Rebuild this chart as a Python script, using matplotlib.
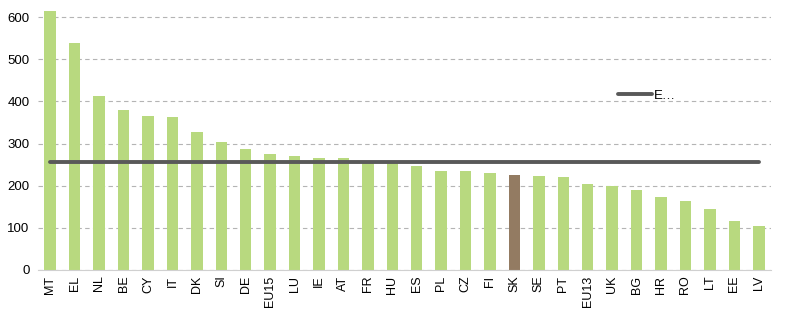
import numpy as np
import matplotlib.pyplot as plt
from matplotlib.lines import Line2D

plt.rcParams['font.family'] = ['Liberation Sans', 'DejaVu Sans']

countries = ["MT", "EL", "NL", "BE", "CY", "IT", "DK", "SI", "DE", "EU15", "LU", "IE", "AT",
             "FR", "HU", "ES", "PL", "CZ", "FI", "SK", "SE", "PT", "EU13", "UK", "BG", "HR",
             "RO", "LT", "EE", "LV"]
values = [614, 539, 413, 379, 365, 363, 327, 304, 287, 275, 270, 266, 266,
          258, 255, 247, 235, 235, 230, 225, 223, 220, 204, 199, 190, 173,
          164, 145, 116, 104]
eu_avg = 256
highlight = "SK"

fig = plt.figure(figsize=(7.93, 3.11), dpi=100)
ax = fig.add_axes([38 / 793, 41 / 311, 733 / 793, 261.4 / 311])

x = np.arange(len(countries))
colors = ['#937b62' if c == highlight else '#b8d97f' for c in countries]
ax.bar(x, values, width=0.47, color=colors, zorder=2)
ax.plot(x, [eu_avg] * len(x), color='#595959', lw=2.8, solid_capstyle='round', zorder=3)

ax.set_xlim(-0.5, len(x) - 0.5)
ax.set_ylim(0, 620)
ax.set_yticks(range(0, 700, 100))
ax.set_xticks(x)
ax.set_xticklabels(countries, rotation=90, fontsize=9)
ax.tick_params(axis='y', labelsize=9.5, length=0, pad=6)
ax.tick_params(axis='x', length=0, pad=4)
ax.yaxis.grid(True, linestyle=(0, (4, 3)), color='#b4b4b4', lw=0.8, zorder=0)
for s in ['left', 'right', 'top']:
    ax.spines[s].set_visible(False)
ax.spines['bottom'].set_color('#d0d0d0')

handle = Line2D([], [], color='#595959', lw=2.8, solid_capstyle='round')
fig.legend([handle], ['E…'], loc='center left', bbox_to_anchor=(618 / 793, 1 - 96 / 311),
           frameon=False, handlelength=2.6, handletextpad=0.1, fontsize=9.5,
           borderpad=0, borderaxespad=0)

fig.savefig('out.png', dpi=100)
